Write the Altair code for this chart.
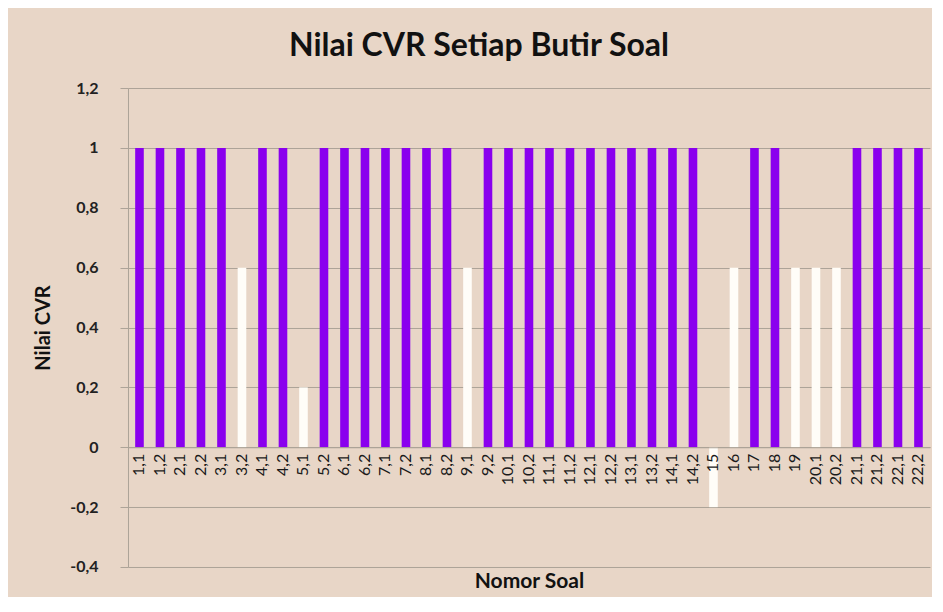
import altair as alt
import pandas as pd

categories = ["1,1", "1,2", "2,1", "2,2", "3,1", "3,2", "4,1", "4,2", "5,1", "5,2",
              "6,1", "6,2", "7,1", "7,2", "8,1", "8,2", "9,1", "9,2", "10,1", "10,2",
              "11,1", "11,2", "12,1", "12,2", "13,1", "13,2", "14,1", "14,2", "15", "16",
              "17", "18", "19", "20,1", "20,2", "21,1", "21,2", "22,1", "22,2"]
cvr = [1, 1, 1, 1, 1, 0.6, 1, 1, 0.2, 1,
       1, 1, 1, 1, 1, 1, 0.6, 1, 1, 1,
       1, 1, 1, 1, 1, 1, 1, 1, -0.2, 0.6,
       1, 1, 0.6, 0.6, 0.6, 1, 1, 1, 1]
y_ticks = [-0.4, -0.2, 0, 0.2, 0.4, 0.6, 0.8, 1, 1.2]

df = pd.DataFrame({"soal": categories, "cvr": cvr})

PURPLE = "#8A00EE"
BG = "#E8D6C7"
GRID = "#ADA398"
FONT = "Lato"
H = 479

chart = alt.Chart(df).mark_bar().encode(
    x=alt.X("soal:N", sort=categories,
            scale=alt.Scale(paddingInner=0.58, paddingOuter=0.35),
            axis=alt.Axis(title="Nomor Soal", labelAngle=-90, labelFontSize=16,
                          labelColor="#1a1a1a", labelFont=FONT, labelPadding=6,
                          ticks=False, domainColor=GRID, offset=-H / 4, zindex=1,
                          titleFontSize=21, titleFont=FONT, titleFontWeight="bold",
                          titleColor="#111", titleY=123)),
    y=alt.Y("cvr:Q", scale=alt.Scale(domain=[-0.4, 1.2], nice=False),
            axis=alt.Axis(title="Nilai CVR", values=y_ticks,
                          labelExpr="replace(replace(format(datum.value, '.1~f'), '.', ','), '\u2212', '-')",
                          labelFontSize=16, labelFont=FONT, labelColor="#222",
                          labelFontWeight="bold", labelPadding=22, tickSize=8,
                          tickColor=GRID, domainColor=GRID, gridColor=GRID,
                          titleFontSize=20, titleFont=FONT, titleFontWeight="bold",
                          titleColor="#111", titlePadding=16)),
    color=alt.condition(alt.datum.cvr >= 1, alt.value(PURPLE), alt.value("#FFFDF8")),
).properties(
    width=alt.Step(20.5),
    height=H,
    title=alt.TitleParams("Nilai CVR Setiap  Butir Soal", fontSize=32, font=FONT,
                          fontWeight="bold", color="#111", offset=17, anchor="middle",
                          dx=-50),
    padding={"left": 25, "top": 22, "right": 2, "bottom": 5},
).configure(background=BG).configure_view(stroke=None)

chart.save("out.html", embed_options={"renderer": "svg", "actions": False})
